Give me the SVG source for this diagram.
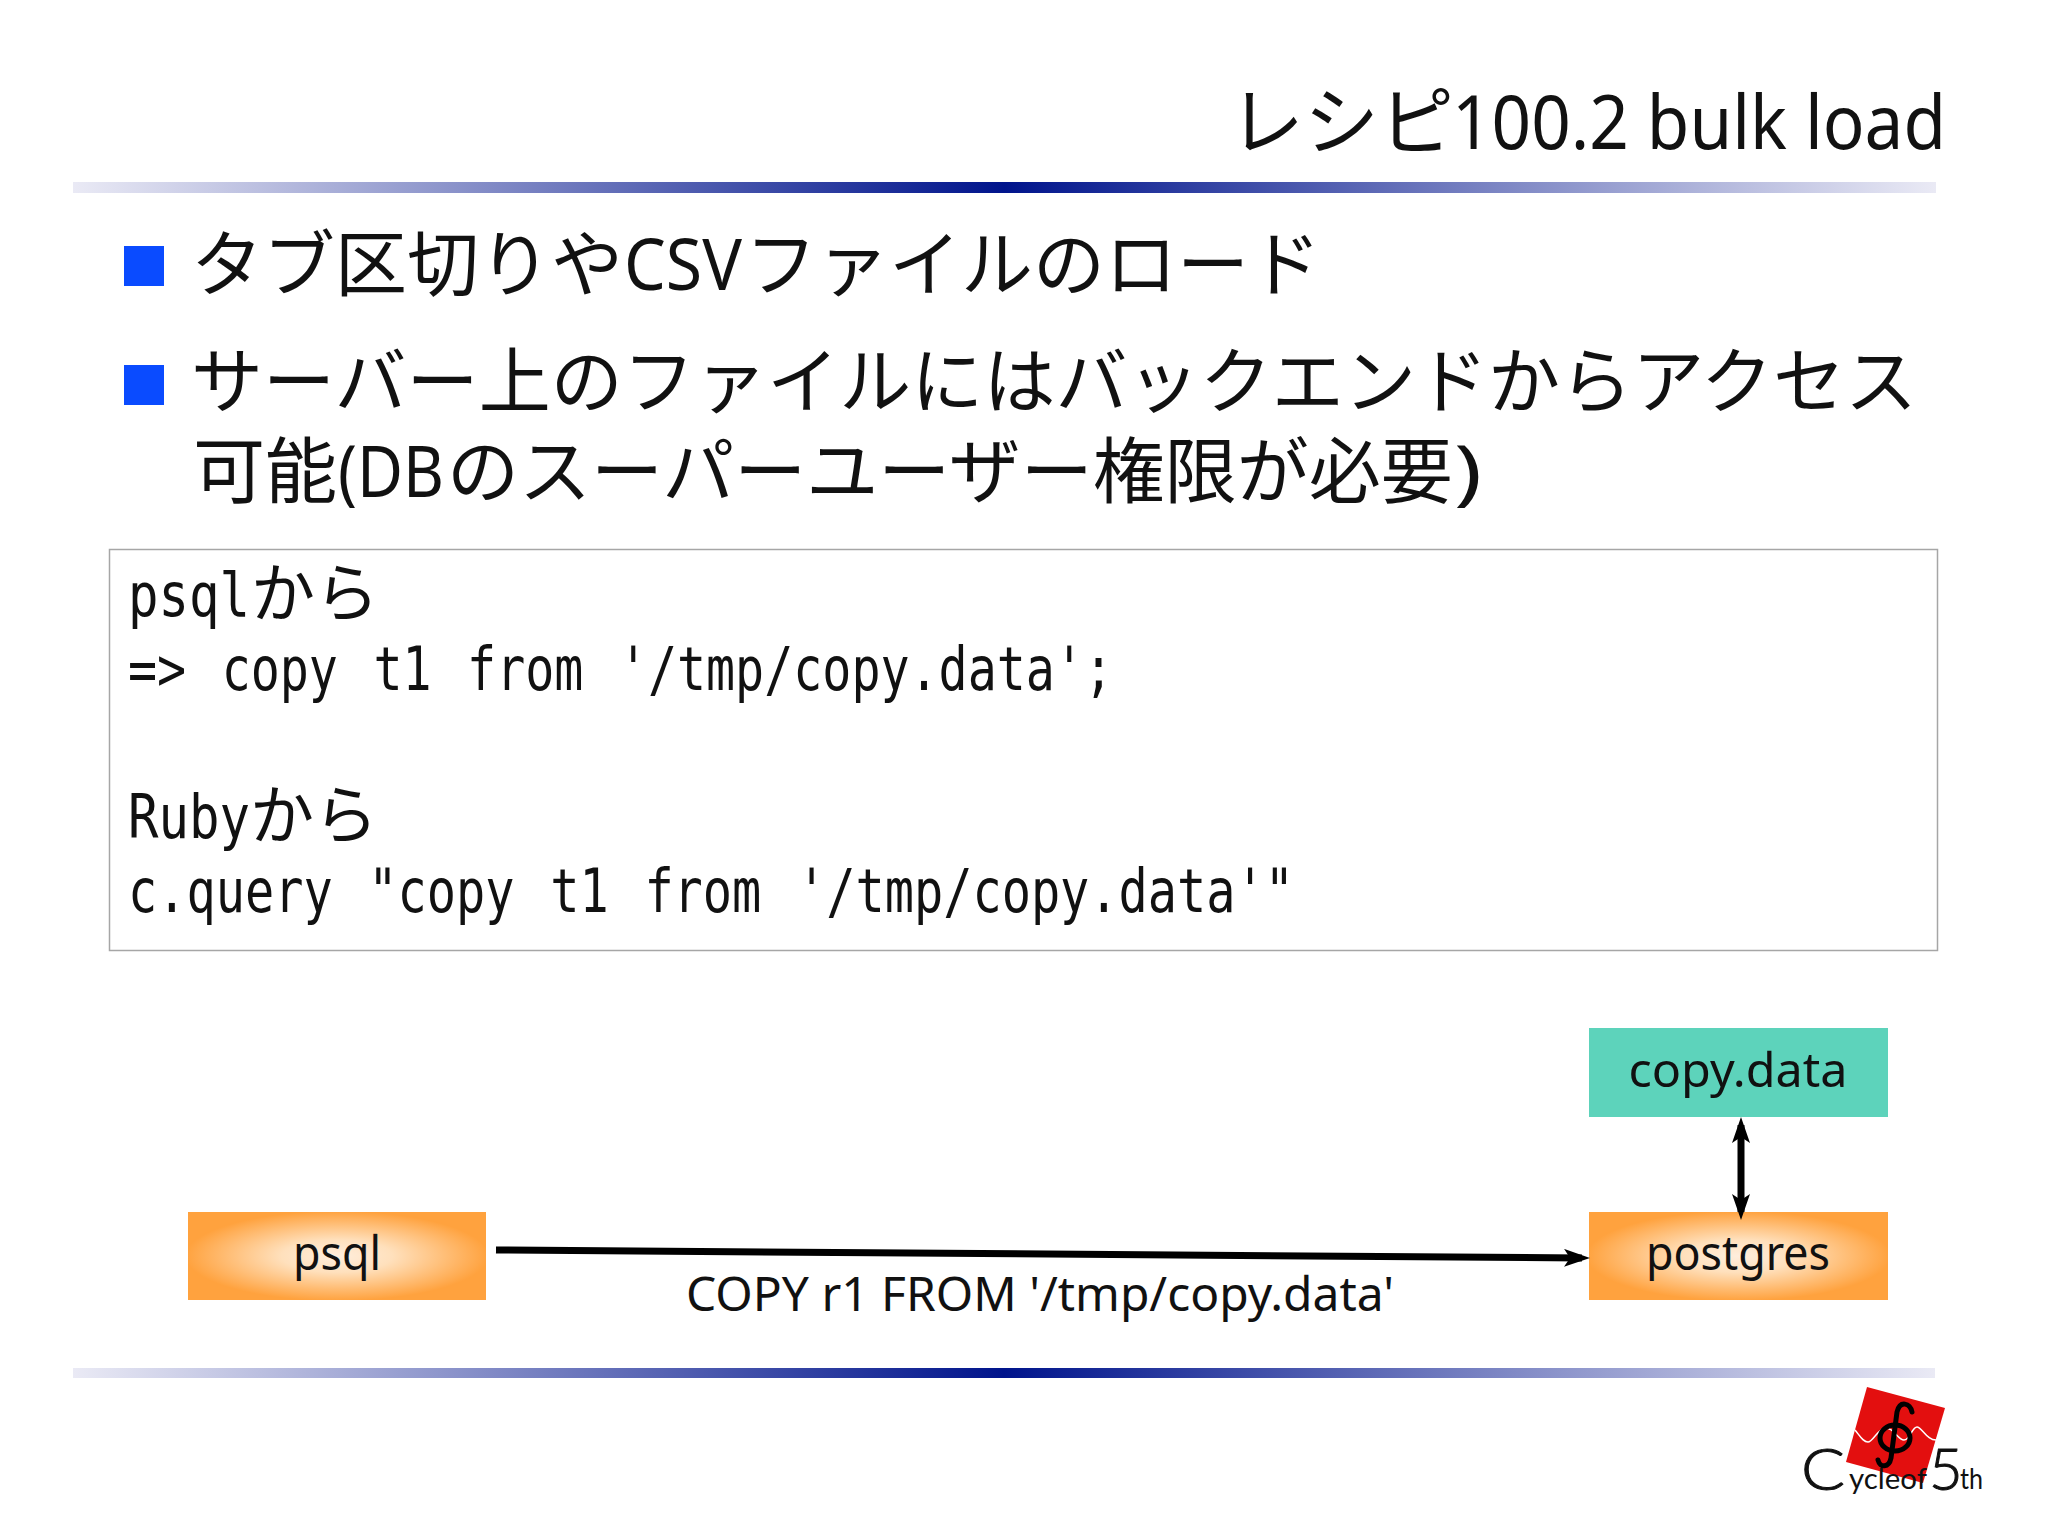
<svg xmlns="http://www.w3.org/2000/svg" width="2048" height="1535" viewBox="0 0 2048 1535">
<style>
.t{font-family:"Noto Sans CJK JP","Noto Sans",sans-serif;font-size:72px;fill:#111}
.l{font-family:"Noto Sans","Noto Sans CJK JP",sans-serif}
.m{font-family:"DejaVu Sans Mono","Noto Sans CJK JP",monospace;font-size:60px;fill:#111;word-spacing:8px}
.j{font-family:"Noto Sans CJK JP",sans-serif;font-size:64px}
.n{font-family:"Noto Sans",sans-serif;font-size:48px;fill:#111;text-anchor:middle}
.bar{fill:url(#bar)}
.bul{fill:#0a4bff}
.or{fill:url(#or)}
.conn{fill:none;stroke:#000}
.logo{font-family:"Lato","Liberation Sans",sans-serif;font-weight:400;fill:#111}
.big{font-weight:300;stroke:#111;stroke-width:1}
</style>
<defs>
<linearGradient id="bar"><stop offset="0" stop-color="#eaeaf5"/><stop offset="0.5" stop-color="#00148c"/><stop offset="1" stop-color="#eaeaf5"/></linearGradient>
<radialGradient id="or" cx="0.5" cy="0.5" r="0.62"><stop offset="0" stop-color="#ffeedd"/><stop offset="0.3" stop-color="#ffe0bc"/><stop offset="0.82" stop-color="#ffa23e"/><stop offset="1" stop-color="#ffa23e"/></radialGradient>
<marker id="a" markerUnits="userSpaceOnUse" viewBox="0 0 26 18" refX="18" refY="9" markerWidth="26" markerHeight="18" orient="auto-start-reverse"><path d="M0 0L26 9L0 18L6 9Z" fill="#000"/></marker>
</defs>
<rect width="2048" height="1535" fill="#fff"/>
<rect class="bar" x="73" y="182" width="1863" height="11"/>
<rect class="bar" x="73" y="1368" width="1862" height="10"/>
<text class="t" y="149" x="1229" style="font-size:75px">レシピ<tspan class="l" x="1452" textLength="494" lengthAdjust="spacingAndGlyphs">100.2 bulk load</tspan></text>
<rect class="bul" x="124" y="246" width="40" height="40"/>
<rect class="bul" x="124" y="365" width="40" height="40"/>
<text class="t" y="290" x="191">タブ区切りや<tspan class="l" x="624" textLength="118" lengthAdjust="spacingAndGlyphs">CSV</tspan><tspan x="745">ファイルのロード</tspan></text>
<text class="t" y="407" x="191" textLength="1726">サーバー上のファイルにはバックエンドからアクセス</text>
<text class="t" y="497" x="193">可能<tspan class="l" x="338" textLength="106" lengthAdjust="spacingAndGlyphs">(DB</tspan><tspan x="447">のスーパーユーザー権限が必要</tspan><tspan class="l" x="1454" textLength="28" lengthAdjust="spacingAndGlyphs">)</tspan></text>
<rect x="109.500" y="549.500" width="1828" height="401" fill="#fff" stroke="#a6a6a6" stroke-width="1.500"/>
<text class="m" y="616" x="128"><tspan textLength="122" lengthAdjust="spacingAndGlyphs">psql</tspan><tspan class="j" x="251">から</tspan></text>
<text class="m" y="690" x="128" textLength="985" lengthAdjust="spacingAndGlyphs">=&gt; copy t1 from '/tmp/copy.data';</text>
<text class="m" y="838" x="128"><tspan textLength="122" lengthAdjust="spacingAndGlyphs">Ruby</tspan><tspan class="j" x="250">から</tspan></text>
<text class="m" y="912" x="128" textLength="1166" lengthAdjust="spacingAndGlyphs">c.query "copy t1 from '/tmp/copy.data'"</text>
<g id="node-psql"><rect class="or" x="188" y="1212" width="298" height="88"/><text class="n" x="337" y="1270" textLength="88" lengthAdjust="spacingAndGlyphs">psql</text></g>
<g id="node-postgres"><rect class="or" x="1589" y="1212" width="299" height="88"/><text class="n" x="1738" y="1270" textLength="184" lengthAdjust="spacingAndGlyphs">postgres</text></g>
<g id="node-copy-data"><rect x="1589" y="1028" width="299" height="89" fill="#5dd3bb"/><text class="n" x="1738" y="1087" textLength="219" lengthAdjust="spacingAndGlyphs">copy.data</text></g>
<g id="connectors">
<path class="conn" stroke-width="7" d="M496 1250L1582 1258" marker-end="url(#a)"/>
<path class="conn" stroke-width="7" d="M1741 1125V1212" marker-start="url(#a)" marker-end="url(#a)"/>
</g>
<text class="n" x="1040" y="1311" textLength="708" lengthAdjust="spacingAndGlyphs">COPY r1 FROM '/tmp/copy.data'</text>
<g id="logo">
<polygon points="1867,1387 1945,1408 1923,1483 1846,1462" fill="#e30f0f"/>
<path d="M1855 1430c5 6 8 12 13 12s10-14 18-14 12 12 18 12 8-13 13-13 10 14 20 13" fill="none" stroke="#fff" stroke-width="1.500"/>
<path d="M1912 1412C1910 1403 1900 1400 1897 1412L1891 1458C1889 1468 1880 1468 1878 1460" fill="none" stroke="#000" stroke-width="5" stroke-linecap="round"/>
<ellipse cx="1895" cy="1438" rx="15" ry="13" fill="none" stroke="#000" stroke-width="5"/>
<text class="logo big" x="1801" y="1490" font-size="58" textLength="44" lengthAdjust="spacingAndGlyphs">C</text>
<text class="logo" x="1849" y="1489" font-size="29" textLength="78" lengthAdjust="spacingAndGlyphs">ycleof</text>
<text class="logo big" x="1929" y="1490" font-size="58">5</text>
<text class="logo" x="1960" y="1489" font-size="29" textLength="23" lengthAdjust="spacingAndGlyphs">th</text>
</g>
</svg>
